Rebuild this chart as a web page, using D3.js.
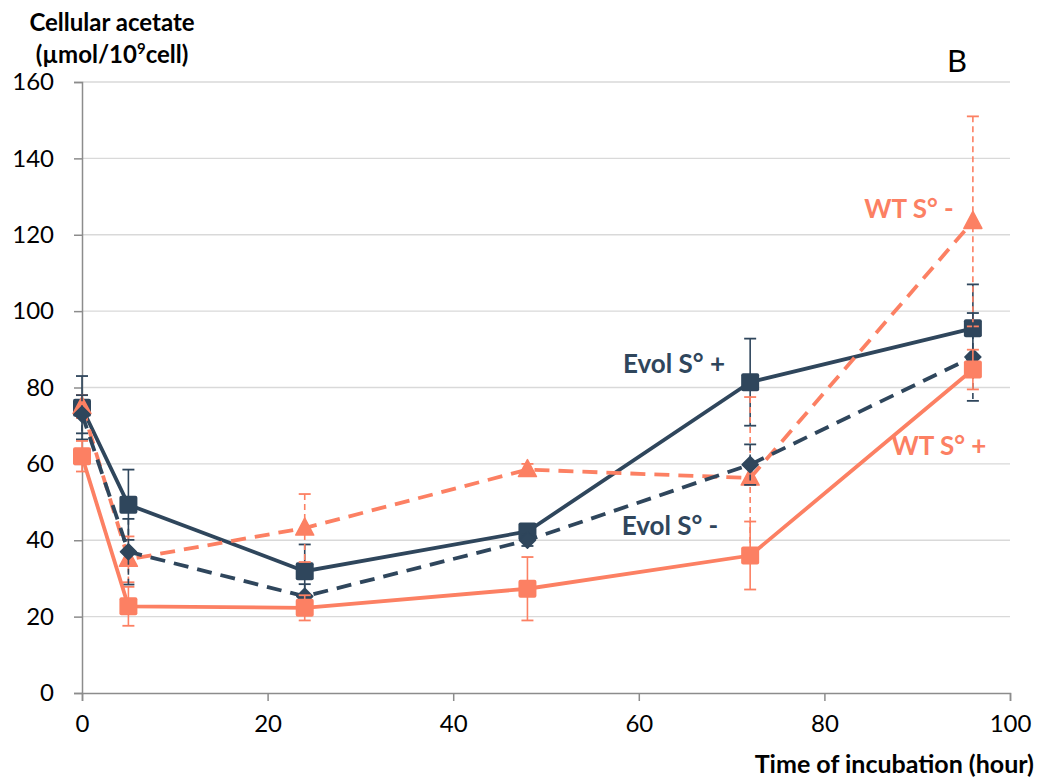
<!DOCTYPE html>
<html><head><meta charset="utf-8">
<script src="https://cdn.jsdelivr.net/npm/d3@7/dist/d3.min.js"></script>
<style>body{margin:0;background:#fff;} text{font-family:Lato,"Open Sans",sans-serif;}</style>
</head><body><svg id="c" width="1041" height="783"></svg>
<script>
const times = [0, 5, 24, 48, 72, 96];
const seriesNames = ["Evol S° +", "WT S° -", "Evol S° -", "WT S° +"];
const evolPlus = [74.7, 49.3, 31.9, 42.3, 81.4, 95.5];
const evolPlusErr = [8.3, 9.2, 7, 1.5, 11.4, 11.5];
const evolMinus = [73, 37, 25.3, 40, 59.8, 88];
const evolMinusErr = [5, 8.6, 3.2, 1.5, 5.3, 11.5];
const wtPlus = [62, 22.7, 22.3, 27.3, 36, 84.7];
const wtPlusErr = [4, 5.1, 3.3, 8.3, 8.9, 5.2];
const wtMinus = [75, 35, 43.2, 58.5, 56.3, 123.5];
const wtMinusErr = [3, 6, 8.9, 1.5, 21.2, 27.5];
const xTicks = [0, 20, 40, 60, 80, 100];
const yTicks = [0, 20, 40, 60, 80, 100, 120, 140, 160];

const DARK = "#2f465c", CORAL = "#fc8063";
const svg = d3.select("#c");
const x = d3.scaleLinear().domain([0, 100]).range([82, 1010]);
const y = d3.scaleLinear().domain([0, 160]).range([693, 82]);

// gridlines
svg.append("g").selectAll("line").data(yTicks.filter(d => d > 0)).join("line")
  .attr("x1", x(0)).attr("x2", x(100)).attr("y1", d => y(d)).attr("y2", d => y(d))
  .attr("stroke", "#d9d9d9").attr("stroke-width", 1.3);

// axes
const yAxis = svg.append("g").attr("transform", `translate(${x(0)},0)`)
  .call(d3.axisLeft(y).tickValues(yTicks).tickSize(8).tickPadding(20));
const xAxis = svg.append("g").attr("transform", `translate(0,${y(0)})`)
  .call(d3.axisBottom(x).tickValues(xTicks).tickSize(8).tickPadding(14));
[yAxis, xAxis].forEach(g => {
  g.select(".domain").attr("stroke", "#8c8c8c").attr("stroke-width", 1.5);
  g.selectAll(".tick line").attr("stroke", "#8c8c8c").attr("stroke-width", 1.5);
  g.selectAll(".tick text").attr("fill", "#000").style("font-size", "24px").style("font-family", "Lato, sans-serif");
});

const series = [
  {name: seriesNames[0], v: evolPlus, e: evolPlusErr, color: DARK, dash: null, sym: "square"},
  {name: seriesNames[1], v: wtMinus, e: wtMinusErr, color: CORAL, dash: "15,9", sym: "triangle"},
  {name: seriesNames[2], v: evolMinus, e: evolMinusErr, color: DARK, dash: "15,9", sym: "diamond"},
  {name: seriesNames[3], v: wtPlus, e: wtPlusErr, color: CORAL, dash: null, sym: "square"},
];

const line = d3.line().x((d, i) => x(times[i])).y(d => y(d));

series.forEach(s => {
  const g = svg.append("g");
  // error bars
  s.v.forEach((v, i) => {
    const cx = x(times[i]);
    g.append("line").attr("x1", cx).attr("x2", cx).attr("y1", y(v + s.e[i])).attr("y2", y(v - s.e[i]))
      .attr("stroke", s.color).attr("stroke-width", 1.6).attr("stroke-dasharray", s.dash ? "6,4" : null);
    [v + s.e[i], v - s.e[i]].forEach(ev => {
      g.append("line").attr("x1", cx - 6).attr("x2", cx + 6).attr("y1", y(ev)).attr("y2", y(ev))
        .attr("stroke", s.color).attr("stroke-width", 1.8);
    });
  });
  g.append("path").datum(s.v).attr("d", line).attr("fill", "none")
    .attr("stroke", s.color).attr("stroke-width", 3.8).attr("stroke-dasharray", s.dash);
  s.v.forEach((v, i) => {
    const cx = x(times[i]), cy = y(v);
    if (s.sym === "square") {
      g.append("rect").attr("x", cx - 9).attr("y", cy - 9).attr("width", 18).attr("height", 18)
        .attr("rx", 2).attr("fill", s.color);
    } else if (s.sym === "triangle") {
      g.append("path").attr("d", `M${cx},${cy - 10}L${cx + 9},${cy + 7}L${cx - 9},${cy + 7}Z`)
        .attr("fill", s.color).attr("stroke", s.color).attr("stroke-width", 1.5).attr("stroke-linejoin", "round");
    } else {
      g.append("path").attr("d", `M${cx},${cy - 8}L${cx + 8},${cy}L${cx},${cy + 8}L${cx - 8},${cy}Z`)
        .attr("fill", s.color).attr("stroke", s.color).attr("stroke-width", 1.5).attr("stroke-linejoin", "round");
    }
  });
});

// series labels
const labels = [
  {t: seriesNames[0], x: 674, y: 373, c: DARK},
  {t: seriesNames[2], x: 670, y: 535, c: DARK},
  {t: seriesNames[1], x: 909, y: 218, c: CORAL},
  {t: seriesNames[3], x: 939, y: 455, c: CORAL},
];
svg.append("g").selectAll("text").data(labels).join("text")
  .attr("x", d => d.x).attr("y", d => d.y).attr("text-anchor", "middle")
  .attr("fill", d => d.c).style("font-size", "26px").style("font-weight", "bold").text(d => d.t);

// panel letter
svg.append("text").attr("x", 957).attr("y", 72).attr("text-anchor", "middle")
  .style("font-size", "31px").attr("fill", "#000").text("B");

// y title
svg.append("text").attr("x", 112).attr("y", 31).attr("text-anchor", "middle")
  .style("font-size", "24px").style("font-weight", "bold").text("Cellular acetate");
const yt2 = svg.append("text").attr("x", 112).attr("y", 63).attr("text-anchor", "middle")
  .style("font-size", "24px").style("font-weight", "bold");
yt2.append("tspan").text("(µmol/10");
yt2.append("tspan").attr("dy", -9).style("font-size", "15px").text("9");
yt2.append("tspan").attr("dy", 9).text("cell)");

// x title
svg.append("text").attr("x", 1034).attr("y", 773).attr("text-anchor", "end")
  .style("font-size", "25px").style("font-weight", "bold").text("Time of incubation (hour)");
</script></body></html>
